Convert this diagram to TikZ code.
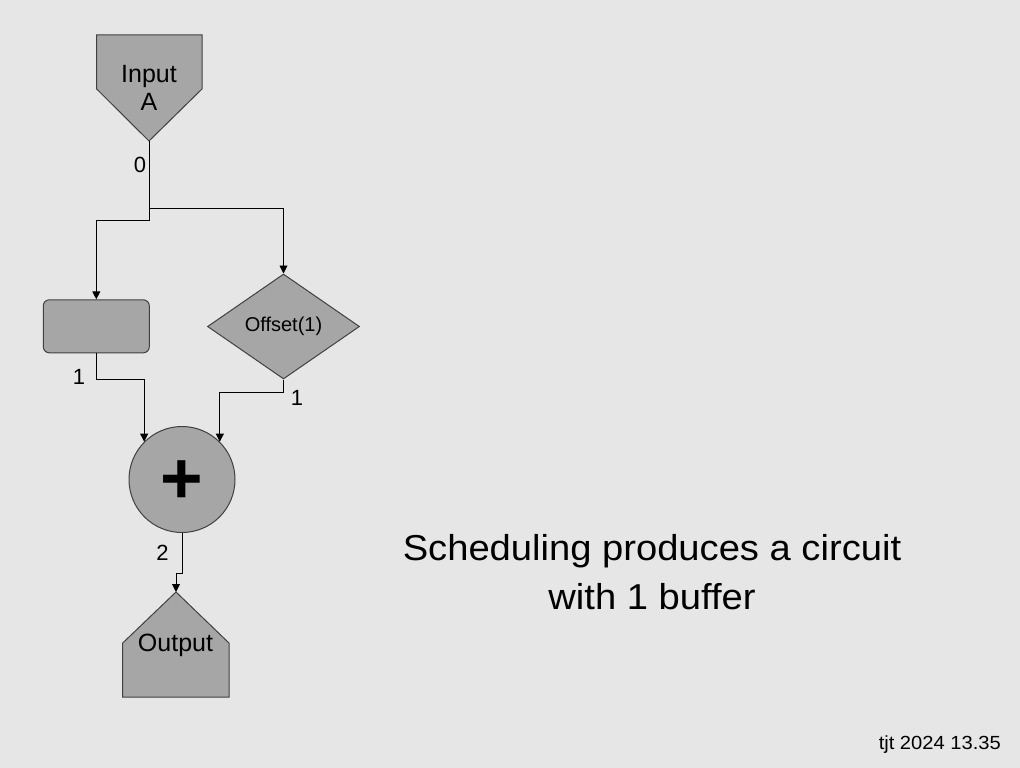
\documentclass[tikz,border=0pt]{standalone}
\usepackage{fontspec}
\setmainfont{Liberation Sans}
\newfontfamily\widefont[FakeStretch=1.06]{Liberation Sans}
\usetikzlibrary{shapes.geometric,arrows.meta,calc}
\definecolor{bg}{HTML}{E6E6E6}
\definecolor{shapefill}{HTML}{A6A6A6}
\definecolor{shapeline}{HTML}{404040}
\begin{document}
\begin{tikzpicture}[x=1pt,y=-1pt,
  shapestyle/.style={fill=shapefill,draw=shapeline,line width=1pt},
  arr/.style={draw=black,line width=0.9pt,-{Triangle[length=8pt,width=8pt]}},
  lbl/.style={font=\fontsize{22}{22}\selectfont,inner sep=0pt},
  txt/.style={inner sep=0pt,align=center}]
\fill[bg] (0,0) rectangle (1020,768);
\useasboundingbox (0,0) rectangle (1020,768);
% Input A
\draw[shapestyle] (96.7,35) -- (202,35) -- (202,89) -- (149,141) -- (96.7,89) -- cycle;
\coordinate (inTip) at (149,141);
\node[txt,anchor=base] (inA1) at (149,82.7) {\fontsize{25}{25}\selectfont Input};
\node[txt,anchor=base] (inA2) at (149,110.7) {\fontsize{25}{25}\selectfont A};
% buffer rectangle
\node[shapestyle,rectangle,rounded corners=6pt,minimum width=106pt,minimum height=53pt,inner sep=0pt] (buf) at (96.3,326.3) {};
% offset diamond
\node[shapestyle,diamond,minimum width=152pt,minimum height=105pt,inner sep=0pt,font=\fontsize{20}{20}\selectfont] (dia) at (283.5,326.5) {Offset(1)};
% adder
\node[shapestyle,circle,minimum size=106pt,inner sep=0pt] (plus) at (182,479.5) {};
\node[inner sep=0pt,font=\fontsize{73}{73}\selectfont\bfseries] (plusSign) at (182,482.5) {+};
% output
\draw[shapestyle] (176,592) -- (229,643) -- (229,697) -- (122.7,697) -- (122.7,643) -- cycle;
\coordinate (outTip) at (176,592);
\node[txt,anchor=base] (outT) at (175.5,651.7) {\fontsize{25}{25}\selectfont Output};
% connectors
\coordinate (j1) at (149,208);
\coordinate (j2) at (149,220);
\draw[draw=black,line width=0.9pt] (inTip) -- (j1);
\draw[arr] (j1) -| (dia.north);
\draw[arr] (j1) -- (j2) -| (buf.north);
\draw[arr] (buf.south) -- ++(0,26) -| (plus.135);
\draw[arr] (dia.south) -- ++(0,13) -| (plus.45);
\draw[arr] (plus.south) -- ++(0,40) -| (outTip);
% labels
\node[lbl] (l0) at (140,165) {0};
\node[lbl] (l1a) at (79,377) {1};
\node[lbl] (l1b) at (297,398) {1};
\node[lbl] (l2) at (162.5,552.5) {2};
% caption
\node[txt,anchor=base] (cap1) at (652,560) {\widefont\fontsize{36}{36}\selectfont Scheduling produces a circuit};
\node[txt,anchor=base] (cap2) at (652,609) {\widefont\fontsize{36}{36}\selectfont with 1 buffer};
\node[txt,anchor=base east] (foot) at (1001,749) {\widefont\fontsize{19}{19}\selectfont tjt 2024 13.35};
\end{tikzpicture}
\end{document}
